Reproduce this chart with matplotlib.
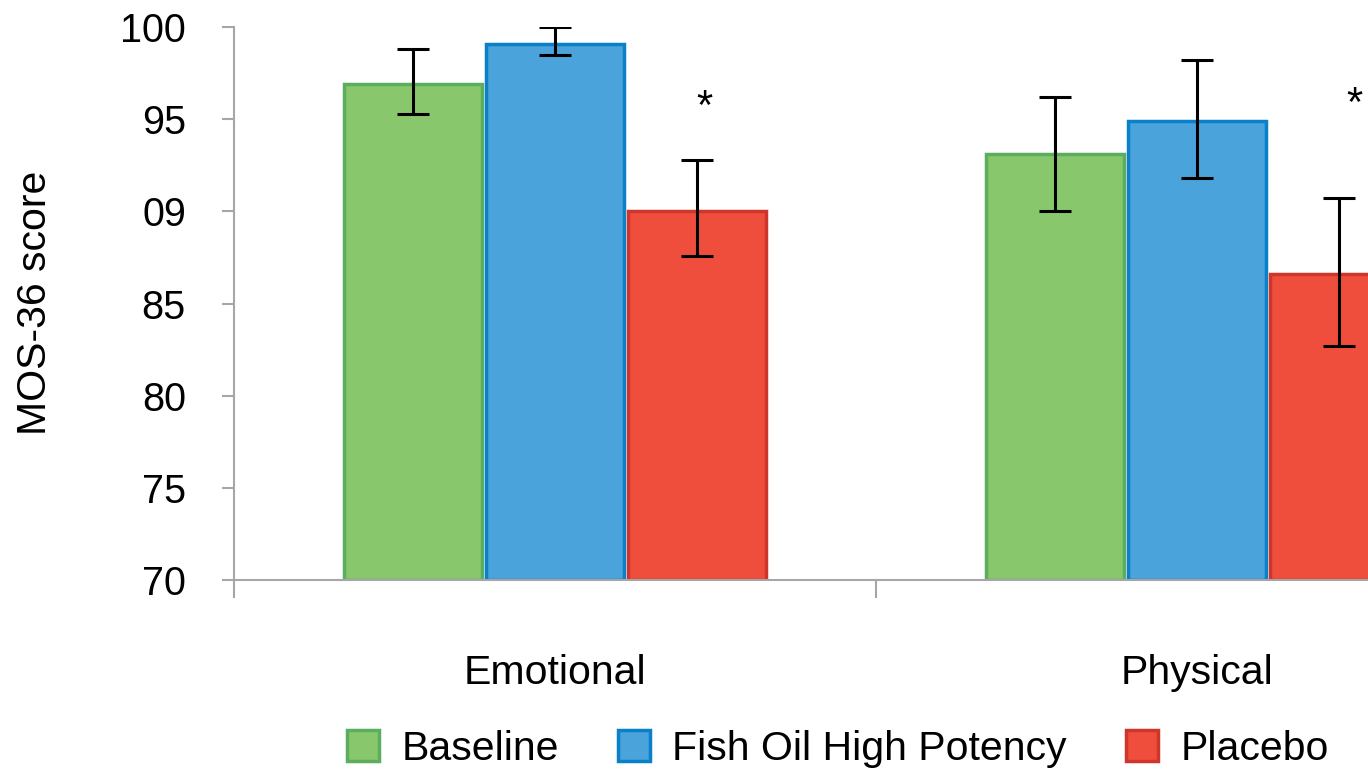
import numpy as np
import matplotlib.pyplot as plt

plt.rcParams['font.family'] = ['Liberation Sans', 'DejaVu Sans']

# data
categories = ['Emotional', 'Physical']
series = ['Baseline', 'Fish Oil High Potency', 'Placebo']
means = {
    'Baseline': [96.9, 93.1],
    'Fish Oil High Potency': [99.1, 94.9],
    'Placebo': [90.0, 86.6],
}
err_low = {
    'Baseline': [95.3, 90.0],
    'Fish Oil High Potency': [98.5, 91.8],
    'Placebo': [87.6, 82.7],
}
err_high = {
    'Baseline': [98.8, 96.2],
    'Fish Oil High Potency': [100.0, 98.2],
    'Placebo': [92.8, 90.7],
}
y_ticks = [70, 75, 80, 85, 90, 95, 100]
y_tick_labels = ['70', '75', '80', '85', '09', '95', '100']
star_pos = [(0.232, 95.6), (1.245, 95.75)]

fills = ['#88C76C', '#4AA3DA', '#F04E3C']
edges = ['#5BAE5E', '#0A80C8', '#D0352B']
axis_gray = '#A6A6A8'
fs = 28.5
fs_big = 29.5

fig = plt.figure(figsize=(13.68, 7.73), dpi=100)
# axes runs past the right edge like the original (clipped)
ax = fig.add_axes([234 / 1368, 1 - 580 / 773, 1284 / 1368, 553 / 773])

x = np.arange(len(categories))
step = 0.221
w = 0.216
for i, s in enumerate(series):
    xs = x + (i - 1) * step
    m = np.array(means[s])
    lo = m - np.array(err_low[s])
    hi = np.array(err_high[s]) - m
    ax.bar(xs, m - 70, w, bottom=70, color=fills[i], edgecolor=edges[i],
           linewidth=2.5, label=s, zorder=2)
    ax.errorbar(xs, m, yerr=[lo, hi], fmt='none', ecolor='black',
                elinewidth=2.2, capsize=11.5, capthick=2.2, zorder=3)

for sx, sy in star_pos:
    ax.text(sx, sy, '*', fontsize=30, ha='center', va='center')

ax.set_xlim(-0.5, 1.5)
ax.set_ylim(70, 100)

ax.spines['top'].set_visible(False)
ax.spines['right'].set_visible(False)
for sp in ['left', 'bottom']:
    ax.spines[sp].set_color(axis_gray)
    ax.spines[sp].set_linewidth(1.5)

ax.set_yticks(y_ticks)
ax.set_yticklabels(y_tick_labels, fontsize=fs)
ax.tick_params(axis='y', length=8.6, width=1.5, color=axis_gray, pad=26)

ax.set_xticks(x)
ax.set_xticklabels(categories, fontsize=fs_big)
ax.set_xticks([-0.5, 0.5, 1.5], minor=True)
ax.tick_params(axis='x', which='major', length=0, pad=53)
ax.tick_params(axis='x', which='minor', length=13, width=1.5, color=axis_gray)

fig.text(35 / 1368, 1 - 303 / 773, 'MOS-36 score', fontsize=fs_big,
         rotation=90, ha='center', va='center')

fig.legend(loc='center', bbox_to_anchor=(838 / 1368, 1 - 749 / 773), ncol=3,
           frameon=False, fontsize=fs_big, handlelength=0.78, handleheight=0.78,
           handletextpad=0.54, columnspacing=1.45)

fig.savefig('out.png', dpi=100)
